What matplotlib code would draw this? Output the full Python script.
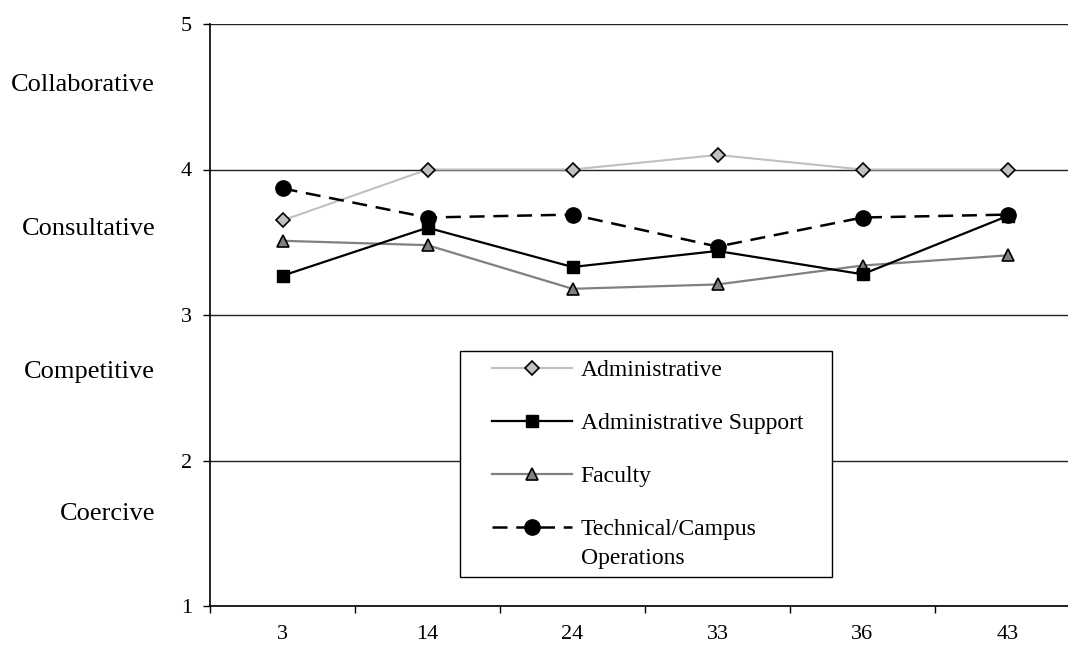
import matplotlib.pyplot as plt
from matplotlib.patches import Rectangle
from matplotlib.ticker import FixedLocator

plt.rcParams['font.family'] = ['Liberation Serif', 'DejaVu Serif']

# ===DATA===
groups = ['3', '14', '24', '33', '36', '43']
administrative = [3.65, 4.00, 4.00, 4.10, 4.00, 4.00]
admin_support = [3.27, 3.60, 3.33, 3.44, 3.28, 3.68]
faculty = [3.51, 3.48, 3.18, 3.21, 3.34, 3.41]
technical = [3.87, 3.67, 3.69, 3.47, 3.67, 3.69]

style_names = ['Collaborative', 'Consultative', 'Competitive', 'Coercive']
style_y = [4.58, 3.59, 2.61, 1.63]

W, H = 1068, 647

# ===graph===
fig = plt.figure(figsize=(W/100, H/100), dpi=100)
ax = fig.add_axes([210/W, 41/H, 870/W, 582/H])

x = range(len(groups))
ax.plot(x, administrative, color='#c0c0c0', lw=1.5, marker='D', ms=7,
        mfc='#c0c0c0', mec='black', mew=1.2, label='Administrative', zorder=3)
ax.plot(x, admin_support, color='black', lw=1.6, marker='s', ms=8,
        mfc='black', mec='black', label='Administrative Support', zorder=4)
ax.plot(x, faculty, color='#808080', lw=1.6, marker='^', ms=9,
        mfc='#808080', mec='black', mew=1.2, label='Faculty', zorder=3)
ax.plot(x, technical, color='black', lw=1.8, ls=(0, (6, 3.5)), marker='o', ms=11,
        mfc='black', mec='black', label='Technical/Campus', zorder=5)

ax.set_xlim(-0.5, len(groups) - 0.5)
ax.set_ylim(1, 5)
ax.set_yticks([1, 2, 3, 4, 5])
ax.set_xticks(list(x))
ax.set_xticklabels(groups)
ax.xaxis.set_minor_locator(FixedLocator([i - 0.5 for i in range(len(groups) + 1)]))
ax.tick_params(axis='x', which='major', length=0, pad=14, labelsize=16)
ax.tick_params(axis='x', which='minor', length=5, width=1, direction='out')
ax.tick_params(axis='y', length=5, width=1, direction='out', pad=8, labelsize=16)

ax.grid(axis='y', color='#222222', lw=1)
ax.set_axisbelow(True)
for s in ['top', 'right']:
    ax.spines[s].set_visible(False)
ax.spines['left'].set_linewidth(1.2)
ax.spines['bottom'].set_linewidth(1.2)

for name, yv in zip(style_names, style_y):
    ax.text(-0.063, yv, name, transform=ax.get_yaxis_transform(),
            ha='right', va='center', fontsize=19)

# legend frame drawn by hand so the box size matches
frame = Rectangle((460/W, 1 - 577/H), 372/W, 226/H, transform=fig.transFigure,
                  facecolor='white', edgecolor='black', lw=1, zorder=2, clip_on=False)
ax.add_patch(frame)

leg = ax.legend(loc='upper left', bbox_to_anchor=(492/W, 1 - 359.5/H),
                bbox_transform=fig.transFigure, fontsize=17, frameon=False,
                handlelength=3.4, handletextpad=0.35, borderpad=0,
                labelspacing=1.33, borderaxespad=0)
leg.set_zorder(10)

fig.canvas.draw()
bb = leg.get_texts()[-1].get_window_extent()
fig.text(bb.x0/W, (bb.y0 - 29)/H, 'Operations', fontsize=17, ha='left', va='bottom')

plt.savefig('out.png', dpi=100)
